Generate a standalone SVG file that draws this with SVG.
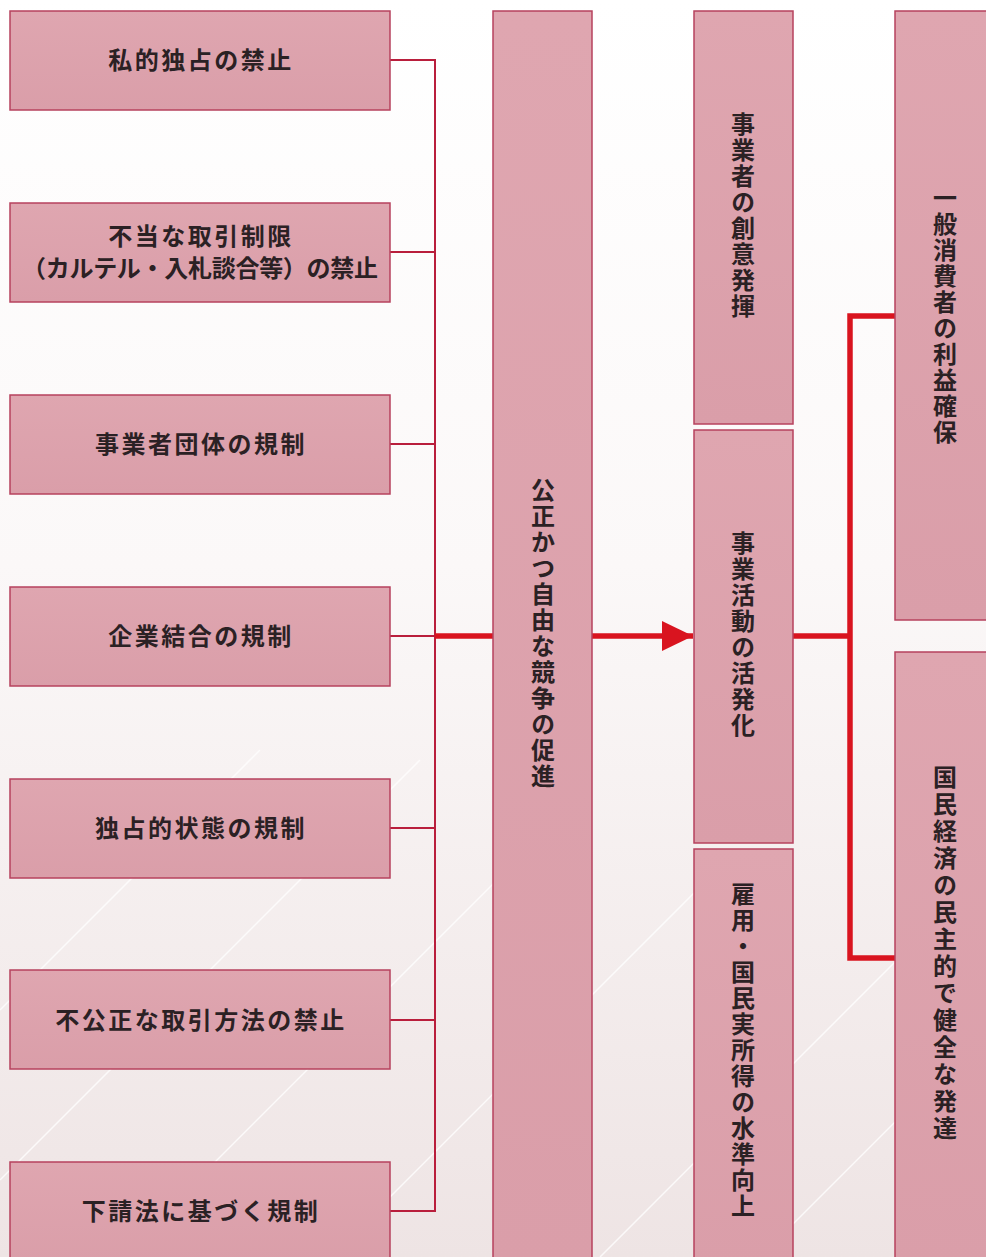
<svg xmlns="http://www.w3.org/2000/svg" width="986" height="1257" viewBox="0 0 986 1257">
<defs>
<linearGradient id="bg" x1="0" y1="0" x2="0" y2="1">
<stop offset="0" stop-color="#ffffff"/>
<stop offset="0.45" stop-color="#fbf8f8"/>
<stop offset="1" stop-color="#eee4e4"/>
</linearGradient>
<linearGradient id="boxfill" x1="0" y1="0" x2="0" y2="1">
<stop offset="0" stop-color="#dfa6b0"/>
<stop offset="1" stop-color="#da9ea9"/>
</linearGradient>
<marker id="arrow" markerUnits="userSpaceOnUse" markerWidth="32" markerHeight="32" refX="31" refY="16" orient="auto">
<path d="M0,1 L31,16 L0,31 Z" fill="#d9141f"/>
</marker>
</defs>
<style>
.box{fill:url(#boxfill);stroke:#b7425e;stroke-width:1.5}
.t{font-family:"Noto Sans CJK JP","Noto Sans CJK SC",sans-serif;font-weight:bold;font-size:24px;fill:#2b2124}
.h{text-anchor:middle;letter-spacing:2.5px}
.v{writing-mode:vertical-rl;text-anchor:middle;letter-spacing:2px}
.v3{letter-spacing:3px}
.thin{fill:none;stroke:#b91e3c;stroke-width:2}
.thick{fill:none;stroke:#d9141f;stroke-width:5.5}
.stripe{stroke:#ffffff;stroke-width:1.5;opacity:0.8}
</style>
<rect x="0" y="0" width="986" height="1257" fill="url(#bg)"/>
<g id="background-stripes">
<line class="stripe" x1="0" y1="1010" x2="260" y2="750"/>
<line class="stripe" x1="0" y1="1180" x2="420" y2="760"/>
<line class="stripe" x1="120" y1="1257" x2="560" y2="817"/>
<line class="stripe" x1="330" y1="1257" x2="700" y2="887"/>
<line class="stripe" x1="600" y1="1257" x2="900" y2="957"/>
<line class="stripe" x1="760" y1="1257" x2="986" y2="1031"/>
</g>
<g id="connectors">
<path class="thin" d="M390,60 H435 V1211 H390"/>
<path class="thin" d="M390,252 H435"/>
<path class="thin" d="M390,444 H435"/>
<path class="thin" d="M390,636 H435"/>
<path class="thin" d="M390,828 H435"/>
<path class="thin" d="M390,1020 H435"/>
<path class="thick" d="M435,636 H493"/>
<path class="thick" d="M592,636 H693" marker-end="url(#arrow)"/>
<path class="thick" d="M793,636 H850"/>
<path class="thick" d="M895,316 H850 V958 H895"/>
</g>
<g id="n1"><rect class="box" x="10" y="11" width="380" height="99"/><text class="t h" x="201" y="69">私的独占の禁止</text></g>
<g id="n2"><rect class="box" x="10" y="203" width="380" height="99"/><text class="t h" x="201" y="245">不当な取引制限</text><text class="t" x="22" y="277" textLength="356" lengthAdjust="spacing">（カルテル・入札談合等）の禁止</text></g>
<g id="n3"><rect class="box" x="10" y="395" width="380" height="99"/><text class="t h" x="201" y="453">事業者団体の規制</text></g>
<g id="n4"><rect class="box" x="10" y="587" width="380" height="99"/><text class="t h" x="201" y="645">企業結合の規制</text></g>
<g id="n5"><rect class="box" x="10" y="779" width="380" height="99"/><text class="t h" x="201" y="837">独占的状態の規制</text></g>
<g id="n6"><rect class="box" x="10" y="970" width="380" height="99"/><text class="t h" x="201" y="1029">不公正な取引方法の禁止</text></g>
<g id="n7"><rect class="box" x="10" y="1162" width="380" height="100"/><text class="t h" x="201" y="1220">下請法に基づく規制</text></g>
<g id="n8"><rect class="box" x="493" y="11" width="99" height="1252"/><text class="t v" x="543" y="634">公正かつ自由な競争の促進</text></g>
<g id="n9"><rect class="box" x="694" y="11" width="99" height="413"/><text class="t v" x="743" y="216">事業者の創意発揮</text></g>
<g id="n10"><rect class="box" x="694" y="430" width="99" height="413"/><text class="t v" x="743" y="635">事業活動の活発化</text></g>
<g id="n11"><rect class="box" x="694" y="849" width="99" height="414"/><text class="t v" x="743" y="1051">雇用・国民実所得の水準向上</text></g>
<g id="n12"><rect class="box" x="895" y="11" width="99" height="609"/><text class="t v" x="945" y="316">一般消費者の利益確保</text></g>
<g id="n13"><rect class="box" x="895" y="652" width="99" height="611"/><text class="t v v3" x="945" y="954">国民経済の民主的で健全な発達</text></g>
</svg>
